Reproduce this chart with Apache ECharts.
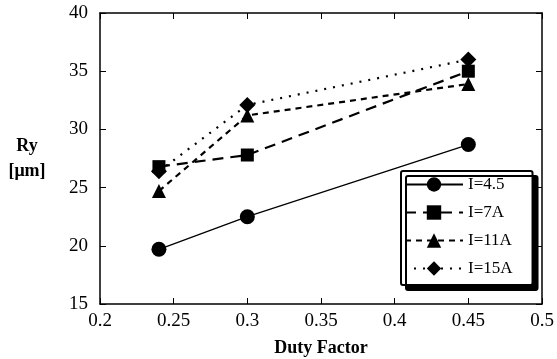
<!DOCTYPE html>
<html>
<head>
<meta charset="utf-8">
<script src="https://cdn.jsdelivr.net/npm/echarts@6/dist/echarts.min.js"></script>
<style>
  html, body { margin: 0; padding: 0; background: #fff; }
  #chart { width: 557px; height: 359px; }
</style>
</head>
<body>
<div id="chart"></div>
<script>
// duty factor values on x
const dutyFactor = [0.24, 0.3, 0.45]
// Ry values [um]
const ry45 = [19.7, 22.5, 28.7]
const ry7 = [26.8, 27.8, 35.0]
const ry11 = [24.7, 31.2, 33.9]
const ry15 = [26.4, 32.1, 36.0]
const seriesNames = ['I=4.5', 'I=7A', 'I=11A', 'I=15A']

const pairs = (ys) => dutyFactor.map((x, i) => [x, ys[i]])
const font = 'Liberation Serif'

const chart = echarts.init(document.getElementById('chart'))

function mkSeries(name, ys, symbol, size, lineType, width) {
    return {
        name: name,
        type: 'line',
        data: pairs(ys),
        symbol: symbol,
        symbolSize: size,
        itemStyle: { color: '#000' },
        lineStyle: { color: '#000', width: width, type: lineType },
        animation: false
    }
}

chart.setOption({
    backgroundColor: '#fff',
    textStyle: { fontFamily: font, color: '#000' },
    grid: { left: 100, top: 13, right: 15, bottom: 55, containLabel: false, outerBoundsMode: 'none' },
    legend: {
        orient: 'vertical',
        left: 401,
        top: 171,
        itemWidth: 58,
        itemHeight: 18,
        itemGap: 11,
        padding: [5, 20, 8, 3],
        data: seriesNames,
        backgroundColor: '#fff',
        borderColor: '#000',
        borderWidth: 2,
        borderRadius: 2,
        shadowColor: '#000',
        shadowBlur: 0,
        shadowOffsetX: 5,
        shadowOffsetY: 5,
        textStyle: { fontFamily: font, fontSize: 17, color: '#000' }
    },
    xAxis: [{
        type: 'value',
        min: 0.2,
        max: 0.5,
        interval: 0.05,
        name: 'Duty Factor',
        nameLocation: 'middle',
        nameGap: 44,
        nameMoveOverlap: false,
        nameTextStyle: { fontFamily: font, fontSize: 18, fontWeight: 'bold', color: '#000', verticalAlign: 'middle' },
        axisLine: { lineStyle: { color: '#000', width: 1.5 } },
        axisTick: { inside: true, length: 6, lineStyle: { color: '#000' } },
        axisLabel: {
            fontFamily: font, fontSize: 19, color: '#000', margin: 8,
            formatter: (v) => String(+v.toFixed(2))
        },
        splitLine: { show: false }
    }, {
        type: 'value',
        position: 'top',
        min: 0.2,
        max: 0.5,
        interval: 0.05,
        axisLine: { lineStyle: { color: '#000', width: 1.5 } },
        axisTick: { inside: true, length: 6, lineStyle: { color: '#000' } },
        axisLabel: { show: false },
        splitLine: { show: false }
    }],
    yAxis: [{
        type: 'value',
        min: 15,
        max: 40,
        interval: 5,
        name: 'Ry\n[μm]',
        nameLocation: 'middle',
        nameRotate: 0,
        nameGap: 73,
        nameMoveOverlap: false,
        nameTextStyle: {
            fontFamily: font, fontSize: 18, fontWeight: 'bold', color: '#000',
            lineHeight: 25, align: 'center', padding: [8, 0, 0, 0]
        },
        axisLine: { show: true, lineStyle: { color: '#000', width: 1.5 } },
        axisTick: { show: true, inside: true, length: 6, lineStyle: { color: '#000' } },
        axisLabel: { fontFamily: font, fontSize: 19, color: '#000', margin: 12, padding: [6, 0, 0, 0] },
        splitLine: { show: false }
    }, {
        type: 'value',
        position: 'right',
        min: 15,
        max: 40,
        interval: 5,
        axisLine: { show: true, lineStyle: { color: '#000', width: 1.5 } },
        axisTick: { show: true, inside: true, length: 6, lineStyle: { color: '#000' } },
        axisLabel: { show: false },
        splitLine: { show: false }
    }],
    series: [
        mkSeries('I=4.5', ry45, 'circle', 15, 'solid', 1.3),
        mkSeries('I=7A', ry7, 'rect', 13, [11, 7], 2.2),
        mkSeries('I=11A', ry11, 'triangle', 14, [6, 5], 2.2),
        mkSeries('I=15A', ry15, 'diamond', 16, [2, 7], 2.2)
    ]
})
</script>
</body>
</html>
